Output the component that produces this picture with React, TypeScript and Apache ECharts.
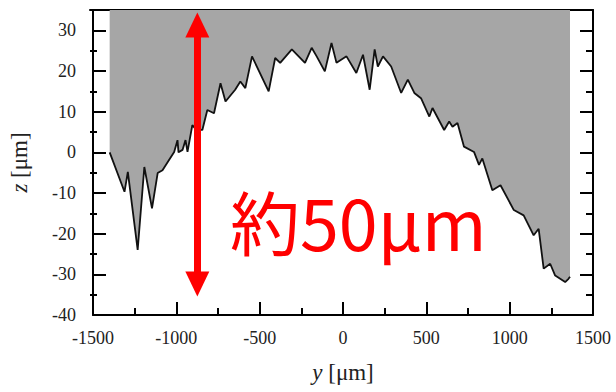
import React, { useEffect, useRef } from "react";
import * as echarts from "echarts";

// profile positions y [μm]
const profileY = [-1400, -1311, -1291, -1232, -1192, -1146, -1112, -1083, -1063, -1013, -993, -987, -963, -945, -933, -904, -880, -844, -814, -774, -735, -705, -647, -616, -586, -546, -446, -407, -377, -307, -228, -188, -158, -109, -69, -39, 21, 80, 120, 160, 190, 209, 240, 289, 349, 389, 428, 468, 518, 537, 607, 637, 657, 687, 726, 786, 816, 836, 896, 945, 1025, 1084, 1144, 1174, 1204, 1243, 1273, 1333, 1353, 1362];
// profile heights z [μm]
const profileZ = [0, -9.7, -4.8, -24, -3.6, -13.8, -5.1, -4.4, -3.1, 0.1, 3, 0, 0.6, 3, 0.1, 6.7, 5.5, 5.5, 10.4, 9.6, 17, 12.5, 15.4, 17.4, 15.8, 23.6, 15, 23.2, 22, 25.3, 22, 25.7, 23.6, 19.9, 26.9, 22, 23.6, 19.5, 24, 15.4, 25.3, 21.1, 23.6, 21.1, 14.6, 17.9, 14.6, 13.3, 8.8, 10.9, 5.5, 7.6, 6.3, 7.2, 1.4, 0.1, -3.1, -1.5, -9.3, -8.1, -14.2, -15.5, -20.4, -18.8, -28.6, -27.4, -30.3, -31.9, -31.1, -30.6];

const xMin = -1500;
const xMax = 1500;
const xInterval = 500;
const zMajorTicks = [-40, -30, -20, -10, 0, 10, 20, 30];
const zMinorTicks = [-35, -25, -15, -5, 5, 15, 25];
const zMin = -40;
const zMax = 35;

// arrow annotation (data coords)
const arrowY = -874;
const arrowTopZ = 31.3;
const arrowBottomZ = -32.4;
const annotationText = "約50μm";

const SERIF = "'Times New Roman', 'Liberation Serif', serif";

export default function App() {
  const ref = useRef<HTMLDivElement>(null);
  useEffect(() => {
    if (!ref.current) return;
    const chart = echarts.init(ref.current, null, { renderer: "svg" });
    const profile = profileY.map((y, i) => [y, profileZ[i]]);
    const area = [[profileY[0], zMax], ...profile, [profileY[profileY.length - 1], zMax]];
    const black = "#000";
    const labelStyle = { fontFamily: SERIF, fontSize: 18, color: "#222" };
    const nameStyle = {
      fontFamily: SERIF,
      fontSize: 23,
      color: "#222",
      rich: { i: { fontFamily: SERIF, fontSize: 23, fontStyle: "italic", color: "#222" } },
    };
    const gridRect = { left: 90, right: 23, top: 10, bottom: 77, containLabel: false };
    const line = { show: true, onZero: false, lineStyle: { color: black, width: 2 } };
    const noLine = { show: false, onZero: false };
    const hiddenX = (gi: number) => ({
      type: "value", gridIndex: gi, min: xMin, max: xMax, show: false,
    });
    const yAx = (gi: number, position: string, showLine: boolean, ticks: number[], len: number) => ({
      type: "value",
      gridIndex: gi,
      min: zMin,
      max: zMax,
      position,
      splitLine: { show: false },
      axisLine: showLine ? line : noLine,
      axisTick: { show: true, inside: true, length: len, customValues: ticks, lineStyle: { color: black, width: 2 } },
      axisLabel: { show: false },
    });
    chart.setOption({
      animation: false,
      grid: [gridRect, gridRect, gridRect, gridRect],
      xAxis: [
        {
          type: "value",
          gridIndex: 0,
          min: xMin,
          max: xMax,
          interval: xInterval,
          position: "bottom",
          axisLine: line,
          axisTick: { show: true, inside: true, length: 13, lineStyle: { color: black, width: 2 } },
          minorTick: { show: true, splitNumber: 2, length: 7, lineStyle: { color: black, width: 2 } },
          splitLine: { show: false },
          axisLabel: { ...labelStyle, margin: 14, formatter: (v: number) => String(v) },
          name: "{i|y} [μm]",
          nameLocation: "middle",
          nameGap: 46,
          nameTextStyle: nameStyle,
        },
        {
          type: "value",
          gridIndex: 1,
          min: xMin,
          max: xMax,
          position: "top",
          axisLine: line,
          axisTick: { show: false },
          axisLabel: { show: false },
          splitLine: { show: false },
        },
        hiddenX(2),
        hiddenX(3),
      ],
      yAxis: [
        {
          ...yAx(0, "left", true, zMajorTicks, 13),
          axisLabel: { ...labelStyle, margin: 17, customValues: zMajorTicks },
          name: "{i|z} [μm]",
          nameLocation: "middle",
          nameGap: 62,
          nameRotate: 90,
          nameTextStyle: nameStyle,
        },
        yAx(1, "left", false, zMinorTicks, 7),
        yAx(2, "right", true, zMajorTicks, 13),
        yAx(3, "right", false, zMinorTicks, 7),
      ],
      series: [
        {
          type: "line",
          data: area,
          xAxisIndex: 0,
          yAxisIndex: 0,
          symbol: "none",
          lineStyle: { width: 0, opacity: 0 },
          areaStyle: { origin: "end", color: "#a6a6a6", opacity: 1 },
          silent: true,
          z: 2,
        },
        {
          type: "line",
          data: profile,
          xAxisIndex: 0,
          yAxisIndex: 0,
          symbol: "none",
          lineStyle: { width: 1.8, color: "#111" },
          silent: true,
          z: 3,
          markLine: {
            silent: true,
            symbol: ["triangle", "triangle"],
            symbolSize: [24, 25],
            label: { show: false },
            emphasis: { disabled: true },
            lineStyle: { color: "#ff0000", width: 7, type: "solid", opacity: 1 },
            data: [[{ coord: [arrowY, arrowTopZ] }, { coord: [arrowY, arrowBottomZ] }]],
            z: 5,
          },
        },
      ],
      graphic: [
        {
          type: "text",
          x: 230,
          y: 220,
          z: 10,
          style: {
            text: annotationText,
            fontSize: 70,
            fontFamily: "'Noto Sans CJK JP', 'Noto Sans', sans-serif",
            fill: "#ff0000",
            align: "left",
            verticalAlign: "middle",
          },
        },
      ],
    });
    return () => chart.dispose();
  }, []);
  return (
    <div
      ref={ref}
      style={{ position: "fixed", left: 0, top: 0, width: 616, height: 392, background: "#fff" }}
    />
  );
}
